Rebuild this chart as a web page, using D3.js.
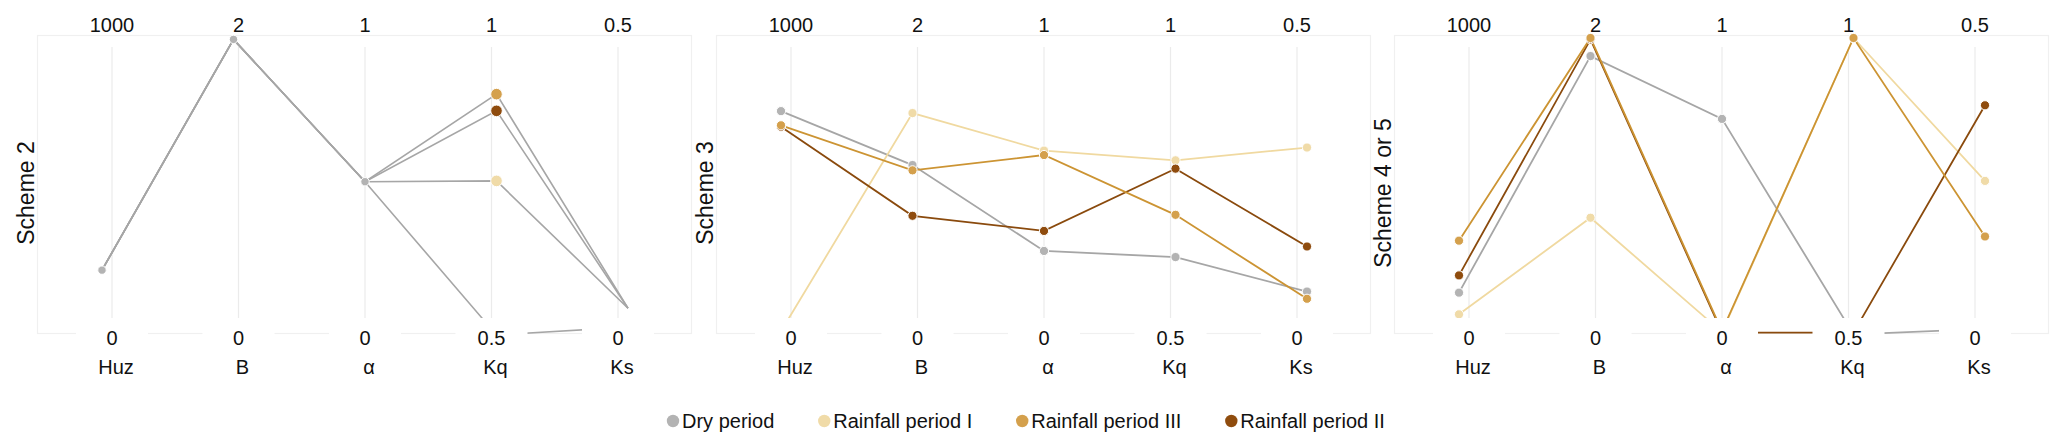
<!DOCTYPE html>
<html lang="en">
<head>
<meta charset="utf-8">
<style>
  body { margin: 0; padding: 0; background: #fff; }
  svg { display: block; font-family: "Liberation Sans", Arial, sans-serif; }
</style>
</head>
<body>
<script src="https://cdn.jsdelivr.net/npm/d3@7/dist/d3.min.js"></script>
<script>
// axes of the parallel plot
var dims = ["Huz", "B", "α", "Kq", "Ks"];
var dimMin = [0, 0, 0, 0.5, 0];
var dimMax = [1000, 2, 1, 1, 0.5];
var topLabels = ["1000", "2", "1", "1", "0.5"];
var bottomLabels = ["0", "0", "0", "0.5", "0"];

var seriesNames = ["Dry period", "Rainfall period I", "Rainfall period III", "Rainfall period II"];
var seriesColors = ["#b3b3b3", "#f0dba8", "#d4a04c", "#8f4c0e"];
var lineColors = ["#a6a6a6", "#f0d9a0", "#cc9433", "#8a4a0d"];

var schemes = ["Scheme 2", "Scheme 3", "Scheme 4 or 5"];

// values per series, in dims order (Dry, I, III, II)
var scheme2 = [
    [165, 1.99, 0.483, 0.466, -0.02],
    [165, 1.99, 0.483, 0.743, 0.014],
    [165, 1.99, 0.483, 0.899, 0.014],
    [165, 1.99, 0.483, 0.869, 0.014]
];
var scheme3 = [
    [737, 1.086, 0.234, 0.606, 0.044],
    [-55, 1.46, 0.595, 0.78, 0.303],
    [686, 1.048, 0.579, 0.682, 0.031],
    [681, 0.721, 0.306, 0.765, 0.125]
];
var scheme45 = [
    [84, 1.87, 0.709, 0.467, -0.023],
    [6, 0.707, -0.058, 1.0, 0.243],
    [271, 2.0, -0.054, 1.0, 0.143],
    [146, 1.99, -0.06, 0.47, 0.379]
];
var schemeData = [scheme2, scheme3, scheme45];

(function() {
    var width = 2067, height = 448;
    var svg = d3.select('body').append('svg')
        .attr('width', width)
        .attr('height', height);

    var frameL = [37, 716, 1394];
    var frameW = 654, frameTop = 35, frameBottom = 333;
    var yBottom = 316, yTop = 38;
    // draw order: dry, I, II, III (III ends up on top)
    var order = [0, 1, 3, 2];

    var yScales = dims.map(function(d, i) {
        return d3.scaleLinear().domain([dimMin[i], dimMax[i]]).range([yBottom, yTop]);
    });

    schemes.forEach(function(name, p) {
        var L = frameL[p];
        var g = svg.append('g');
        var xAxis = d3.scalePoint().domain(dims).range([L + 75, L + 581]);
        var xMark = d3.scalePoint().domain(dims).range([L + 65, L + 591]);
        var data = schemeData[p];

        g.append('rect')
            .attr('x', L + 0.5).attr('y', frameTop + 0.5)
            .attr('width', frameW).attr('height', frameBottom - frameTop)
            .attr('fill', 'none').attr('stroke', '#f0f0f0').attr('stroke-width', 1.2);

        g.selectAll('line.axis').data(dims).enter().append('line')
            .attr('class', 'axis')
            .attr('x1', function(d) { return xAxis(d); })
            .attr('x2', function(d) { return xAxis(d); })
            .attr('y1', 47).attr('y2', 318)
            .attr('stroke', '#ebebeb').attr('stroke-width', 1.2);

        var line = d3.line()
            .x(function(v, i) { return xMark(dims[i]); })
            .y(function(v, i) { return yScales[i](v); });

        order.forEach(function(s) {
            g.append('path')
                .attr('d', line(data[s]))
                .attr('fill', 'none')
                .attr('stroke', p === 0 ? lineColors[0] : lineColors[s])
                .attr('stroke-width', p === 0 ? 1.6 : 1.8);
        });

        order.forEach(function(s) {
            data[s].forEach(function(v, i) {
                // in scheme 2 the rainfall periods only differ at Kq
                if (p === 0 && s !== 0 && dims[i] !== 'Kq') return;
                var big = (p === 0 && s !== 0);
                g.append('circle')
                    .attr('cx', xMark(dims[i]))
                    .attr('cy', yScales[i](v))
                    .attr('r', big ? 5.8 : (p === 0 ? 4.2 : 4.6))
                    .attr('fill', seriesColors[s])
                    .attr('stroke', '#fff').attr('stroke-width', 1);
            });
        });

        // white boxes behind min labels
        g.selectAll('rect.lab').data(dims).enter().append('rect')
            .attr('class', 'lab')
            .attr('x', function(d) { return xAxis(d) - 36; })
            .attr('y', 318).attr('width', 72).attr('height', 36)
            .attr('fill', '#fff');

        g.selectAll('text.top').data(dims).enter().append('text')
            .attr('x', function(d) { return xAxis(d); })
            .attr('y', 32)
            .attr('text-anchor', 'middle').attr('font-size', 20).attr('fill', '#111')
            .text(function(d, i) { return topLabels[i]; });

        g.selectAll('text.bot').data(dims).enter().append('text')
            .attr('x', function(d) { return xAxis(d); })
            .attr('y', 345)
            .attr('text-anchor', 'middle').attr('font-size', 20).attr('fill', '#111')
            .text(function(d, i) { return bottomLabels[i]; });

        g.selectAll('text.name').data(dims).enter().append('text')
            .attr('x', function(d) { return xAxis(d) + 4; })
            .attr('y', 374)
            .attr('text-anchor', 'middle').attr('font-size', 20).attr('fill', '#111')
            .text(function(d) { return d; });

        g.append('text')
            .attr('transform', 'translate(' + (L - 3) + ',193) rotate(-90)')
            .attr('text-anchor', 'middle').attr('font-size', 23).attr('fill', '#111')
            .text(name);
    });

    // legend
    var lg = svg.append('g');
    var x = 673;
    seriesNames.forEach(function(n, i) {
        lg.append('circle').attr('cx', x).attr('cy', 421).attr('r', 6.2)
            .attr('fill', seriesColors[i]);
        var t = lg.append('text').attr('x', x + 9).attr('y', 428)
            .attr('font-size', 20).attr('fill', '#111').text(n);
        x += 9 + t.node().getComputedTextLength() + 50;
    });
})();
</script>
</body>
</html>
